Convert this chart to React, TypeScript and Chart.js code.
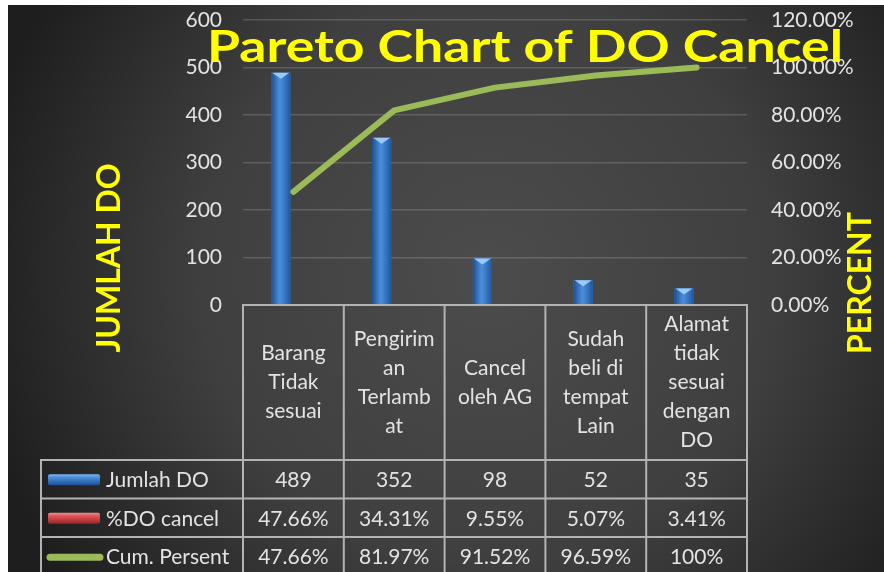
import React, { useEffect, useRef } from "react";
import { Chart, registerables } from "chart.js";

Chart.register(...registerables);

const categories: string[][] = [
  ["Barang", "Tidak", "sesuai"],
  ["Pengirim", "an", "Terlamb", "at"],
  ["Cancel", "oleh AG"],
  ["Sudah", "beli di", "tempat", "Lain"],
  ["Alamat", "tidak", "sesuai", "dengan", "DO"],
];
const seriesNames = ["Jumlah DO", "%DO cancel", "Cum. Persent"];
const jumlahDO = [489, 352, 98, 52, 35];
const pctCancel = [47.66, 34.31, 9.55, 5.07, 3.41];
const cumPercent = [47.66, 81.97, 91.52, 96.59, 100];
const pctCancelLabels = ["47.66%", "34.31%", "9.55%", "5.07%", "3.41%"];
const cumPercentLabels = ["47.66%", "81.97%", "91.52%", "96.59%", "100%"];

const TITLE = "Pareto Chart of DO Cancel";
const LEFT_TITLE = "JUMLAH DO";
const RIGHT_TITLE = "PERCENT";

const FONT = "Lato, 'Open Sans', sans-serif";
const TEXT = "#e3e3e3";
const YELLOW = "#ffff00";
const BORDER = "#b3b3b3";

const bgPlugin = {
  id: "bgPlugin",
  beforeDraw(chart: any) {
    const { ctx, width, height } = chart;
    ctx.save();
    const g = ctx.createRadialGradient(480, 270, 0, 480, 270, 520);
    g.addColorStop(0, "#4c4c4c");
    g.addColorStop(0.55, "#3f3f3f");
    g.addColorStop(1, "#1e1e1e");
    ctx.fillStyle = g;
    ctx.fillRect(0, 0, width, height);
    ctx.restore();
  },
};

const barShade = {
  id: "barShade",
  afterDatasetDraw(chart: any, args: any) {
    if (args.index !== 1) return;
    const { ctx } = chart;
    const meta = chart.getDatasetMeta(1);
    ctx.save();
    meta.data.forEach((bar: any) => {
      const w = bar.width;
      const l = bar.x - w / 2;
      const r = bar.x + w / 2;
      const top = bar.y;
      const base = bar.base;
      const g = ctx.createLinearGradient(l, 0, r, 0);
      g.addColorStop(0, "#1f4f91");
      g.addColorStop(0.45, "#4a8fdc");
      g.addColorStop(0.6, "#3f82d0");
      g.addColorStop(1, "#22569c");
      ctx.fillStyle = g;
      ctx.fillRect(l, top, w, base - top);
      ctx.fillStyle = "#9ccaf5";
      ctx.beginPath();
      ctx.moveTo(l + 1, top);
      ctx.lineTo(r - 1, top);
      ctx.lineTo(bar.x, top + 6);
      ctx.closePath();
      ctx.fill();
    });
    ctx.restore();
  },
};

const overlay = {
  id: "overlay",
  afterDraw(chart: any) {
    const { ctx, chartArea, height } = chart;
    const { left, right, bottom } = chartArea;
    const n = categories.length;
    const cw = (right - left) / n;
    const headerBottom = bottom + 155;
    const rowH = 38.5;
    const legendLeft = 33;
    ctx.save();

    // Title (fitted to the reference width)
    ctx.fillStyle = YELLOW;
    ctx.font = `bold 43px ${FONT}`;
    ctx.textAlign = "center";
    ctx.textBaseline = "alphabetic";
    const tw = ctx.measureText(TITLE).width;
    ctx.save();
    ctx.translate(517, 57);
    ctx.scale(636 / tw, 1);
    ctx.fillText(TITLE, 0, 0);
    ctx.restore();

    // Axis titles
    ctx.font = `bold 32px ${FONT}`;
    ctx.textBaseline = "middle";
    ctx.save();
    ctx.translate(102, 253);
    ctx.rotate(-Math.PI / 2);
    ctx.fillText(LEFT_TITLE, 0, 0);
    ctx.restore();
    ctx.save();
    ctx.translate(853, 278);
    ctx.rotate(-Math.PI / 2);
    ctx.fillText(RIGHT_TITLE, 0, 0);
    ctx.restore();

    // Table lines
    ctx.strokeStyle = BORDER;
    ctx.lineWidth = 2;
    ctx.beginPath();
    for (let i = 0; i <= n; i++) {
      const x = left + i * cw;
      ctx.moveTo(x, bottom);
      ctx.lineTo(x, height + 5);
    }
    ctx.moveTo(left - 1, bottom);
    ctx.lineTo(right + 1, bottom);
    for (let r = 0; r < 4; r++) {
      const y = headerBottom + r * rowH;
      ctx.moveTo(legendLeft - 1, y);
      ctx.lineTo(right + 1, y);
    }
    ctx.moveTo(legendLeft, headerBottom);
    ctx.lineTo(legendLeft, height + 5);
    ctx.stroke();

    // Header text
    ctx.fillStyle = TEXT;
    ctx.font = `21px ${FONT}`;
    ctx.textAlign = "center";
    ctx.textBaseline = "middle";
    const lh = 29;
    const hc = (bottom + headerBottom) / 2;
    categories.forEach((lines, i) => {
      const cx = left + (i + 0.5) * cw;
      const y0 = hc - ((lines.length - 1) * lh) / 2;
      lines.forEach((t, j) => ctx.fillText(t, cx, y0 + j * lh));
    });

    // Rows
    const rows = [jumlahDO.map(String), pctCancelLabels, cumPercentLabels];
    rows.forEach((vals, r) => {
      const cy = headerBottom + (r + 0.5) * rowH;
      vals.forEach((v, i) => ctx.fillText(v, left + (i + 0.5) * cw, cy + 1));
    });

    // Legend keys
    ctx.textAlign = "left";
    seriesNames.forEach((name, r) => {
      const cy = headerBottom + (r + 0.5) * rowH;
      if (r < 2) {
        const g = ctx.createLinearGradient(0, cy - 6, 0, cy + 6);
        if (r === 0) {
          g.addColorStop(0, "#8cc4f7");
          g.addColorStop(0.35, "#4a8fdc");
          g.addColorStop(1, "#1d4f94");
        } else {
          g.addColorStop(0, "#f5a0a0");
          g.addColorStop(0.35, "#e05555");
          g.addColorStop(1, "#9c2424");
        }
        ctx.fillStyle = g;
        ctx.beginPath();
        (ctx as any).roundRect(40, cy - 5, 52, 11, 2);
        ctx.fill();
      } else {
        ctx.strokeStyle = "#9bbb59";
        ctx.lineWidth = 7;
        ctx.lineCap = "round";
        ctx.beginPath();
        ctx.moveTo(42, cy + 1);
        ctx.lineTo(92, cy + 1);
        ctx.stroke();
      }
      ctx.fillStyle = TEXT;
      ctx.fillText(name, 98, cy + 1);
    });

    ctx.restore();
  },
};

export default function App() {
  const ref = useRef<HTMLCanvasElement>(null);
  useEffect(() => {
    if (!ref.current) return;
    Chart.defaults.font.family = FONT;
    const chart = new Chart(ref.current, {
      type: "bar",
      data: {
        labels: categories.map((c) => c.join(" ")),
        datasets: [
          {
            type: "line",
            label: seriesNames[2],
            data: cumPercent,
            yAxisID: "y1",
            borderColor: "#9bbb59",
            borderWidth: 6,
            borderCapStyle: "round",
            borderJoinStyle: "round",
            pointRadius: 0,
            tension: 0,
          } as any,
          {
            label: seriesNames[0],
            data: jumlahDO,
            yAxisID: "y",
            backgroundColor: "#3b7dd0",
            categoryPercentage: 0.5,
            barPercentage: 0.76,
          },
          {
            label: seriesNames[1],
            data: pctCancel.map((v) => v / 100),
            yAxisID: "y",
            backgroundColor: "#c0504d",
            categoryPercentage: 0.5,
            barPercentage: 0.76,
          },
        ],
      },
      options: {
        animation: false,
        responsive: false,
        devicePixelRatio: 1,
        layout: { padding: { top: 15, bottom: 267, left: 0, right: 0 } },
        plugins: {
          legend: { display: false },
          title: { display: false },
          tooltip: { enabled: false },
        },
        scales: {
          x: { display: false },
          y: {
            position: "left",
            min: 0,
            max: 600,
            ticks: { stepSize: 100, color: TEXT, font: { size: 21 }, padding: 0 },
            grid: {
              color: "rgba(255,255,255,0.16)",
              drawTicks: true,
              tickLength: 21,
              tickColor: "rgba(0,0,0,0)",
              lineWidth: 1.5,
            },
            border: { display: false },
            afterFit: (s: any) => {
              s.width = 235;
            },
          },
          y1: {
            position: "right",
            min: 0,
            max: 120,
            ticks: {
              stepSize: 20,
              color: TEXT,
              font: { size: 21 },
              padding: 0,
              callback: (v: any) => Number(v).toFixed(2) + "%",
            },
            grid: {
              drawOnChartArea: false,
              drawTicks: true,
              tickLength: 24,
              tickColor: "rgba(0,0,0,0)",
            },
            border: { display: false },
            afterFit: (s: any) => {
              s.width = 137;
            },
          },
        },
      },
      plugins: [bgPlugin, barShade, overlay],
    });
    return () => chart.destroy();
  }, []);
  return (
    <div style={{ position: "absolute", left: 8, top: 5, width: 876, height: 567 }}>
      <canvas ref={ref} width={876} height={567} style={{ display: "block" }} />
    </div>
  );
}
